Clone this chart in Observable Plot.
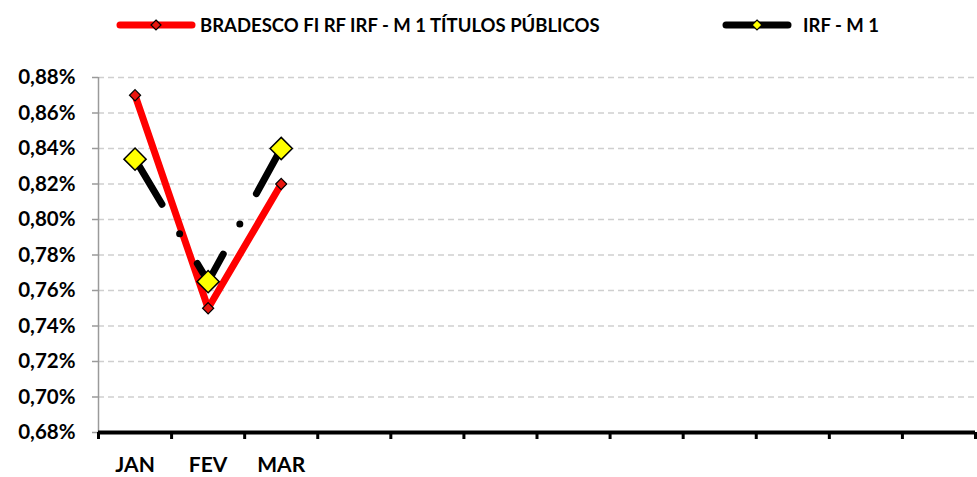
<!DOCTYPE html>
<html><head><meta charset="utf-8">
<script src="https://cdn.jsdelivr.net/npm/d3@7"></script>
<script src="https://cdn.jsdelivr.net/npm/@observablehq/plot@0.6"></script>
<style>
body{margin:0;background:#fff;font-family:Lato,"Open Sans",sans-serif;}
#legend{position:relative;width:977px;height:50px;}
.item{position:absolute;top:0;height:50px;display:flex;align-items:center;}
.item span{font-weight:bold;font-size:18.5px;color:#000;white-space:nowrap;}
</style></head><body>
<div id="legend"></div><div id="chart"></div>
<script>
const months = ["JAN", "FEV", "MAR"];
const fundValues = [0.87, 0.75, 0.82];
const indexValues = [0.834, 0.765, 0.840];
const seriesNames = ["BRADESCO FI RF IRF - M 1 TÍTULOS PÚBLICOS", "IRF - M 1"];
const yTicks = [0.68, 0.70, 0.72, 0.74, 0.76, 0.78, 0.80, 0.82, 0.84, 0.86, 0.88];
const slotCount = 12;

const rows = months.map((m, i) => ({slot: i + 0.5, month: m, fund: fundValues[i], index: indexValues[i]}));
const fmt = v => v.toFixed(2).replace(".", ",") + "%";

// legend
const legendSpec = [
  {name: seriesNames[0], left: 116, w: 80, gap: 4, stroke: "#ff0000", fill: "#e8150e"},
  {name: seriesNames[1], left: 722, w: 70, gap: 11, stroke: "#000", fill: "#ffff00"}
];
const leg = d3.select("#legend");
legendSpec.forEach(s => {
  const it = leg.append("div").attr("class", "item").style("left", s.left + "px");
  const sv = it.append("svg").attr("width", s.w).attr("height", 14);
  sv.append("line").attr("x1", 4).attr("x2", s.w - 4).attr("y1", 7).attr("y2", 7)
    .attr("stroke", s.stroke).attr("stroke-width", 7).attr("stroke-linecap", "round");
  const c = s.w / 2;
  sv.append("path").attr("d", `M${c},2L${c+5},7L${c},12L${c-5},7Z`)
    .attr("fill", s.fill).attr("stroke", "#000").attr("stroke-width", 1.2);
  it.append("span").style("margin-left", s.gap + "px").text(s.name);
});

const chart = Plot.plot({
  width: 977, height: 427,
  marginTop: 27, marginBottom: 45, marginLeft: 98, marginRight: 2,
  x: {domain: [0, slotCount], axis: null},
  y: {domain: [0.68, 0.88], axis: null},
  style: {fontFamily: "Lato, 'Open Sans', sans-serif", background: "white", color: "black"},
  marks: [
    Plot.gridY(yTicks.slice(1), {stroke: "#cfcfcf", strokeOpacity: 1, strokeWidth: 1.5, strokeDasharray: "6,4"}),
    Plot.ruleX([0], {stroke: "#9a9a9a", strokeWidth: 1.5}),
    Plot.axisY({ticks: yTicks, tickSize: 6, tickPadding: 17, stroke: "#9a9a9a", strokeWidth: 1.5, label: null,
      tickFormat: fmt, fontWeight: "bold", fontSize: 20.5, fill: "black"}),
    Plot.line(rows, {x: "slot", y: "fund", stroke: "#ff0000", strokeWidth: 7, strokeLinejoin: "round"}),
    Plot.line(rows, {x: "slot", y: "index", stroke: "#000", strokeWidth: 7, strokeLinecap: "round",
      strokeLinejoin: "round", strokeDasharray: "52.5,34.5,0,34.5"}),
    Plot.dot(rows, {x: "slot", y: "fund", symbol: "diamond2", r: 5, fill: "#e8150e", stroke: "#000", strokeWidth: 1.2}),
    Plot.dot(rows, {x: "slot", y: "index", symbol: "diamond2", r: 10, fill: "#ffff00", stroke: "#000", strokeWidth: 1.5}),
    Plot.ruleY([0.68], {x1: 0, x2: slotCount, stroke: "#000", strokeWidth: 4}),
    Plot.axisX({ticks: d3.range(slotCount + 1), tickSize: 7, stroke: "#000", strokeWidth: 3, label: null, tickFormat: () => ""}),
    Plot.axisX({ticks: rows.map(d => d.slot), tickSize: 0, tickPadding: 25, label: null,
      tickFormat: v => months[Math.floor(v)], fontWeight: "bold", fontSize: 21, fill: "black"})
  ]
});
document.getElementById("chart").append(chart);
</script>
</body></html>
